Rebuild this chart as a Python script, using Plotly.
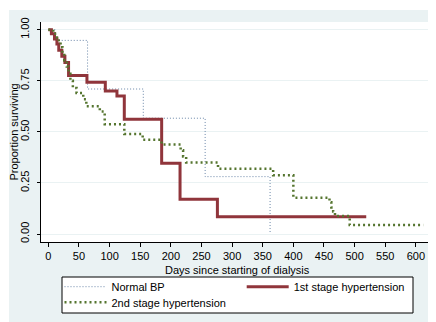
import plotly.graph_objects as go

# ---- data ----
normal_days = [0, 11, 64, 155, 256, 362]
normal_surv = [1.0, 0.948, 0.71, 0.567, 0.281, 0.0]

first_days = [0, 5, 10, 14, 17, 22, 27, 33, 63, 93, 112, 124, 185, 215, 276, 519]
first_surv = [1.0, 0.98, 0.955, 0.93, 0.90, 0.87, 0.84, 0.776, 0.743, 0.70, 0.676,
              0.562, 0.347, 0.17, 0.085, 0.085]

second_days = [0, 8, 14, 17, 20, 23, 26, 30, 33, 36, 40, 46, 57, 62, 84, 92, 124,
               154, 185, 216, 220, 225, 277, 367, 400, 459, 462, 465, 468, 492, 612]
second_surv = [1.0, 0.98, 0.96, 0.94, 0.915, 0.885, 0.85, 0.82, 0.785, 0.75, 0.715,
               0.69, 0.66, 0.625, 0.60, 0.538, 0.49, 0.461, 0.438, 0.41, 0.38, 0.35,
               0.32, 0.288, 0.178, 0.155, 0.13, 0.11, 0.088, 0.044, 0.044]

series_names = ["Normal BP", "1st stage hypertension", "2nd stage hypertension"]
x_ticks = list(range(0, 601, 50))
y_ticks = [0.0, 0.25, 0.5, 0.75, 1.0]
y_ticktext = ["0.00", "0.25", "0.50", "0.75", "1.00"]
x_title = "Days since starting of dialysis"
y_title = "Proportion surviving"

FONT = "Liberation Sans, Arial, sans-serif"
BG = "#EAF2F3"

# page body has an 8px margin: figure is drawn at (8, 8)
OFF = 8
W, H = 436 - OFF, 322 - OFF
L, R, T, B = 33, 3, 14, 80
pw, ph = W - L - R, H - T - B


def px_x(p):  # page pixel -> paper
    return (p - OFF - L) / pw


def px_y(p):
    return (H - B - (p - OFF)) / ph


fig = go.Figure()
fig.add_trace(go.Scatter(x=normal_days, y=normal_surv, mode="lines", name=series_names[0],
                         legend="legend",
                         line=dict(shape="hv", color="#6A86A8", width=1, dash="1px,2px")))
fig.add_trace(go.Scatter(x=first_days, y=first_surv, mode="lines", name=series_names[1],
                         legend="legend2",
                         line=dict(shape="hv", color="rgb(144,53,59)", width=3)))
fig.add_trace(go.Scatter(x=second_days, y=second_surv, mode="lines", name=series_names[2],
                         legend="legend3",
                         line=dict(shape="hv", color="rgb(85,117,47)", width=2.5, dash="2px,3px")))

# white strips outside the graph region (left and top)
fig.add_shape(type="rect", xref="paper", yref="paper", x0=px_x(0), x1=px_x(9),
              y0=px_y(330), y1=px_y(0), fillcolor="white", line_width=0, layer="below")
fig.add_shape(type="rect", xref="paper", yref="paper", x0=px_x(0), x1=px_x(445),
              y0=px_y(10), y1=px_y(0), fillcolor="white", line_width=0, layer="below")
# legend box
fig.add_shape(type="rect", xref="paper", yref="paper", x0=px_x(62), x1=px_x(413),
              y0=px_y(313), y1=px_y(277), fillcolor="white",
              line=dict(color="black", width=1), layer="below")

# axis titles
fig.add_annotation(text=y_title, textangle=-90, xref="paper", yref="paper",
                   x=px_x(13.5), y=0.5, xanchor="center", yanchor="middle", showarrow=False,
                   font=dict(family=FONT, size=11, color="black"))
fig.add_annotation(text=x_title, xref="paper", yref="paper",
                   x=0.5, y=px_y(269.5), xanchor="center", yanchor="middle", showarrow=False,
                   font=dict(family=FONT, size=11, color="black"))


def leg(x_page, y_center_page):
    return dict(orientation="h", xref="container", yref="container",
                x=(x_page - OFF) / W, xanchor="left",
                y=(H - (y_center_page - OFF - 14.5)) / H, yanchor="top",
                bgcolor="rgba(0,0,0,0)", borderwidth=0, itemwidth=42,
                font=dict(family=FONT, size=11, color="black"))


fig.update_layout(
    width=W, height=H,
    margin=dict(l=L, r=R, t=T, b=B, pad=0, autoexpand=False),
    paper_bgcolor=BG, plot_bgcolor="white",
    font=dict(family=FONT, size=11, color="black"),
    showlegend=True,
    legend=leg(59.5, 286.7),
    legend2=leg(241.7, 286.7),
    legend3=leg(59.5, 302.3),
    xaxis=dict(range=[-12, 628], tickvals=x_ticks, ticktext=[str(v) for v in x_ticks],
               showgrid=False, zeroline=False, showline=True, linecolor="black", linewidth=1,
               ticks="outside", ticklen=4, tickcolor="black"),
    yaxis=dict(range=[-0.039, 1.038], tickvals=y_ticks, ticktext=y_ticktext,
               tickangle=-90, showgrid=True, gridcolor=BG, gridwidth=1, zeroline=False,
               showline=True, linecolor="black", linewidth=1,
               ticks="outside", ticklen=3, tickcolor="black", ticklabelstandoff=4),
)

fig.write_html("out.html")
